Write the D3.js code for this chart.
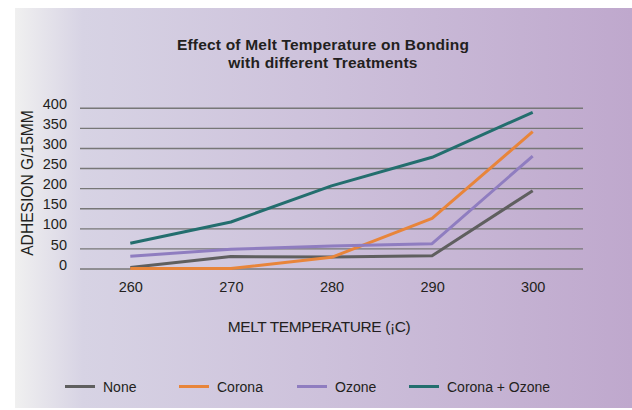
<!DOCTYPE html>
<html>
<head>
<meta charset="utf-8">
<script src="https://cdn.jsdelivr.net/npm/d3@7"></script>
<style>
  html, body { margin: 0; padding: 0; background: #ffffff; }
  svg { display: block; font-family: "Liberation Sans", Arial, Helvetica, sans-serif; }
</style>
</head>
<body>
<svg id="chart" width="632" height="410"></svg>
<script>
// Melt temperatures (°C) along the x axis
const temperatures = [260, 270, 280, 290, 300];

// Adhesion (g/15mm) for each surface treatment
const noneValues = [4, 31, 30, 33, 195];
const coronaValues = [1, 1, 29, 126, 342];
const ozoneValues = [32, 49, 57, 63, 281];
const coronaOzoneValues = [64, 117, 207, 278, 390];

const yTicks = [0, 50, 100, 150, 200, 250, 300, 350, 400];

const seriesNames = ["None", "Corona", "Ozone", "Corona + Ozone"];
const seriesColors = ["#5f5f5f", "#e8853a", "#8f7dc0", "#236e6e"];

const series = [noneValues, coronaValues, ozoneValues, coronaOzoneValues].map((vals, i) => ({
  name: seriesNames[i],
  color: seriesColors[i],
  values: vals.map((v, j) => ({ t: temperatures[j], v }))
}));

const svg = d3.select("#chart");
const ink = "#231f20";

// Panel background with a horizontal lavender gradient
const defs = svg.append("defs");
const grad = defs.append("linearGradient").attr("id", "bg").attr("x1", "0%").attr("x2", "100%");
grad.append("stop").attr("offset", "0%").attr("stop-color", "#f0f0f0");
grad.append("stop").attr("offset", "11%").attr("stop-color", "#d7d3e4");
grad.append("stop").attr("offset", "50%").attr("stop-color", "#cdc1db");
grad.append("stop").attr("offset", "100%").attr("stop-color", "#bfa8cd");

svg.append("rect")
  .attr("x", 15).attr("y", 8)
  .attr("width", 617).attr("height", 400)
  .attr("fill", "url(#bg)");

const plotLeft = 80, plotRight = 583, plotTop = 108.3, plotBottom = 269;

const x = d3.scalePoint()
  .domain(temperatures)
  .range([plotLeft, plotRight])
  .padding(0.5);

const y = d3.scaleLinear()
  .domain([0, 400])
  .range([plotBottom, plotTop]);

// Title, two centred lines
const titleLines = ["Effect of Melt Temperature on Bonding", "with different Treatments"];
svg.append("g")
  .selectAll("text")
  .data(titleLines)
  .join("text")
  .attr("x", 323)
  .attr("y", (d, i) => 50 + i * 18)
  .attr("text-anchor", "middle")
  .attr("font-weight", "bold")
  .attr("font-size", 15.5)
  .attr("letter-spacing", 0.2)
  .attr("fill", ink)
  .text(d => d);

// Horizontal gridlines
svg.append("g")
  .selectAll("line")
  .data(yTicks)
  .join("line")
  .attr("x1", plotLeft).attr("x2", plotRight)
  .attr("y1", d => y(d)).attr("y2", d => y(d))
  .attr("stroke", "#777777")
  .attr("stroke-width", 1.4);

// Y axis labels, sitting slightly above their gridlines
const yAxis = svg.append("g")
  .attr("transform", `translate(${plotLeft},0)`)
  .call(d3.axisLeft(y).tickValues(yTicks).tickSize(0).tickPadding(13));
yAxis.select(".domain").remove();
yAxis.selectAll("text")
  .attr("y", -4.5)
  .attr("font-size", 14.5)
  .attr("fill", ink)
  .attr("font-family", "Liberation Sans, Arial, sans-serif");

// X axis labels
const xAxis = svg.append("g")
  .attr("transform", `translate(0,${plotBottom})`)
  .call(d3.axisBottom(x).tickSize(0).tickPadding(13));
xAxis.select(".domain").remove();
xAxis.selectAll("text")
  .attr("font-size", 14.5)
  .attr("fill", ink)
  .attr("font-family", "Liberation Sans, Arial, sans-serif");

// Axis titles
svg.append("text")
  .attr("x", 319).attr("y", 332)
  .attr("text-anchor", "middle")
  .attr("font-size", 15.5)
  .attr("letter-spacing", -0.4)
  .attr("fill", ink)
  .text("MELT TEMPERATURE (¡C)");

svg.append("text")
  .attr("transform", "translate(33,183) rotate(-90)")
  .attr("text-anchor", "middle")
  .attr("font-size", 15.6)
  .attr("fill", ink)
  .text("ADHESION G/15MM");

// Series lines
const line = d3.line()
  .x(d => x(d.t))
  .y(d => y(d.v));

svg.append("g")
  .selectAll("path")
  .data(series)
  .join("path")
  .attr("d", d => line(d.values))
  .attr("fill", "none")
  .attr("stroke", d => d.color)
  .attr("stroke-width", 3)
  .attr("stroke-linejoin", "round");

// Legend
const legendX = [65, 179, 297, 409];
const legend = svg.append("g")
  .selectAll("g")
  .data(series)
  .join("g")
  .attr("transform", (d, i) => `translate(${legendX[i]},386.5)`);
legend.append("line")
  .attr("x1", 0).attr("x2", 30)
  .attr("stroke", d => d.color)
  .attr("stroke-width", 3);
legend.append("text")
  .attr("x", 38).attr("y", 5)
  .attr("font-size", 14)
  .attr("fill", ink)
  .text(d => d.name);
</script>
</body>
</html>
